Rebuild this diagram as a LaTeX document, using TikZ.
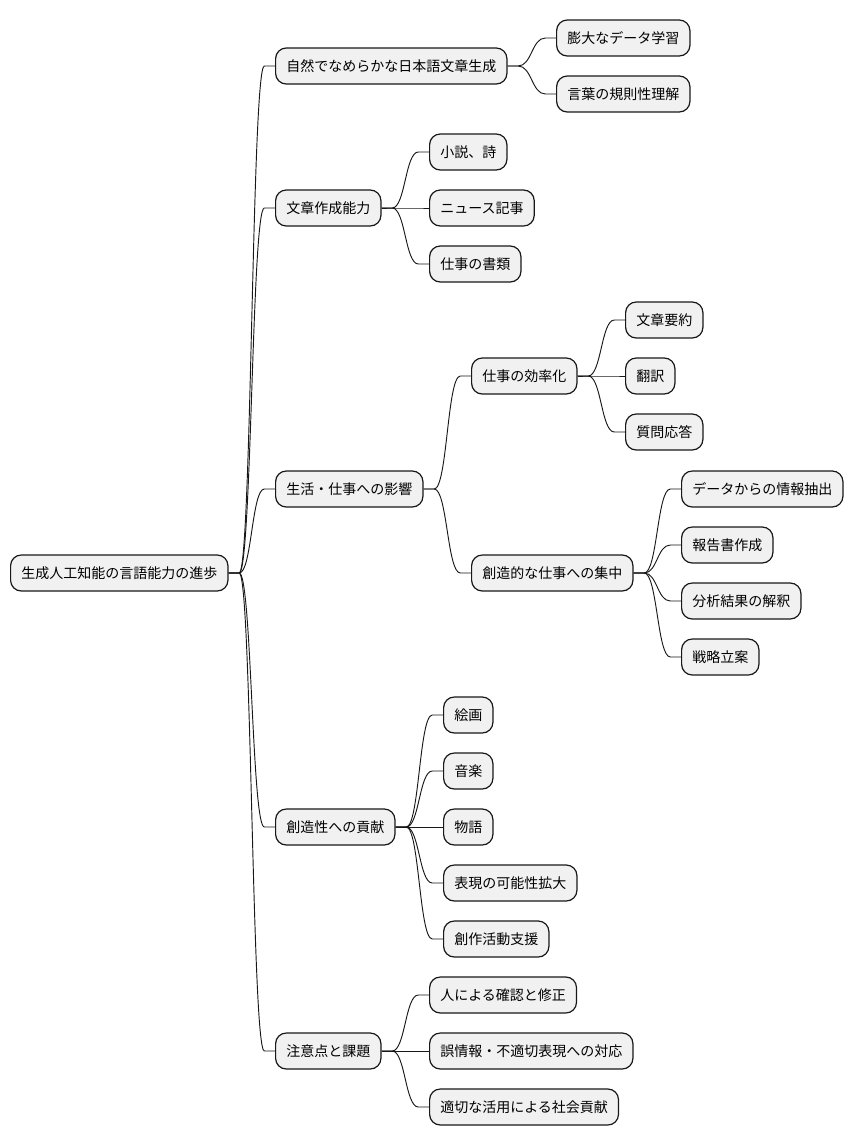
\documentclass[tikz,border=0pt]{standalone}
\usepackage{fontspec}
\setmainfont{Noto Sans CJK JP}
\usetikzlibrary{calc}
\definecolor{boxfill}{HTML}{F1F1F1}
\definecolor{boxline}{HTML}{181818}
\newcommand{\branch}[2]{%
  \draw[edge] let \p1=($(#1.east)+(8pt,0)$), \p2=($(#2.west)+(-8pt,0)$), \n1={(\x1+\x2)/2} in
    (#1.east) -- (\p1) .. controls (\n1,\y1) and (\n1,\y2) .. (\p2) -- (#2.west);}
\begin{document}
\begin{tikzpicture}[x=0.75pt,y=-0.75pt]
        \tikzstyle{topic}=[rectangle,rounded corners=8pt,draw=boxline,line width=0.9pt,fill=boxfill,
                           minimum height=27pt,inner xsep=8pt,anchor=west,font=\fontsize{10.5pt}{12pt}\selectfont]
        \tikzstyle{edge}=[draw=boxline,line width=0.7pt]
        \useasboundingbox (0,0) rectangle (852,1146);
        \node [topic] (r) at (10,573) {生成人工知能の言語能力の進歩};
        % first level
        \node [topic] (a) at (275,66) {自然でなめらかな日本語文章生成};
        \node [topic] (b) at (275,208) {文章作成能力};
        \node [topic] (c) at (275,489) {生活・仕事への影響};
        \node [topic] (d) at (275,827) {創造性への貢献};
        \node [topic] (e) at (275,1051) {注意点と課題};
        % second level
        \node [topic] (a1) at (556,38) {膨大なデータ学習};
        \node [topic] (a2) at (556,94) {言葉の規則性理解};
        \node [topic] (b1) at (429,152) {小説、詩};
        \node [topic] (b2) at (429,208) {ニュース記事};
        \node [topic] (b3) at (429,264) {仕事の書類};
        \node [topic] (c1) at (471,376) {仕事の効率化};
        \node [topic] (c2) at (471,573) {創造的な仕事への集中};
        \node [topic] (d1) at (443,715) {絵画};
        \node [topic] (d2) at (443,771) {音楽};
        \node [topic] (d3) at (443,827) {物語};
        \node [topic] (d4) at (443,883) {表現の可能性拡大};
        \node [topic] (d5) at (443,939) {創作活動支援};
        \node [topic] (e1) at (429,995) {人による確認と修正};
        \node [topic] (e2) at (429,1051) {誤情報・不適切表現への対応};
        \node [topic] (e3) at (429,1107) {適切な活用による社会貢献};
        % third level
        \node [topic] (c11) at (625,320) {文章要約};
        \node [topic] (c12) at (625,376) {翻訳};
        \node [topic] (c13) at (625,432) {質問応答};
        \node [topic] (c21) at (681,489) {データからの情報抽出};
        \node [topic] (c22) at (681,545) {報告書作成};
        \node [topic] (c23) at (681,601) {分析結果の解釈};
        \node [topic] (c24) at (681,657) {戦略立案};
        % connectors
        \foreach \from/\to in {r/a,r/b,r/c,r/d,r/e,a/a1,a/a2,b/b1,b/b2,b/b3,c/c1,c/c2,
                               c1/c11,c1/c12,c1/c13,c2/c21,c2/c22,c2/c23,c2/c24,
                               d/d1,d/d2,d/d3,d/d4,d/d5,e/e1,e/e2,e/e3}
          \branch{\from}{\to};
\end{tikzpicture}
\end{document}
